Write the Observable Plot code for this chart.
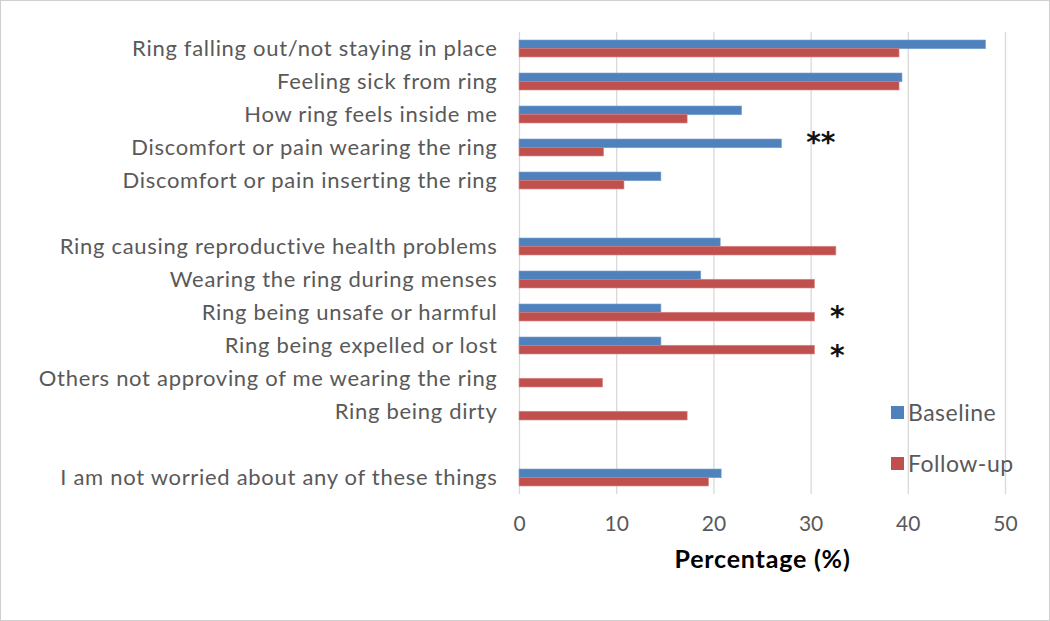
<!DOCTYPE html>
<html>
<head>
<meta charset="utf-8">
<script src="https://cdn.jsdelivr.net/npm/d3@7"></script>
<script src="https://cdn.jsdelivr.net/npm/@observablehq/plot@0.6"></script>
<style>
  html, body { margin: 0; padding: 0; background: #fff; }
  #wrap { position: relative; width: 1050px; height: 621px; overflow: hidden; }
  #wrap svg { display: block; outline: 1px solid #cfcfcf; outline-offset: -1px; }
  .legend { position: absolute; left: 891px; font-family: Lato, "Open Sans", sans-serif; font-size: 23px; letter-spacing: 0.5px; color: #595959; display: flex; align-items: center; line-height: 26px; }
  .legend span.sw { display: inline-block; width: 13px; height: 13px; margin-right: 4px; }
  .ylab text { letter-spacing: 0.7px; }
</style>
</head>
<body>
<div id="wrap"></div>
<script>
const categories = [
  "Ring falling out/not staying in place",
  "Feeling sick from ring",
  "How ring feels inside me",
  "Discomfort or pain wearing the ring",
  "Discomfort or pain inserting the ring",
  " ",
  "Ring causing reproductive health problems",
  "Wearing the ring during menses",
  "Ring being unsafe or harmful",
  "Ring being expelled or lost",
  "Others not approving of me wearing the ring",
  "Ring being dirty",
  "  ",
  "I am not worried about any of these things"
];
const baseline = [48, 39.4, 22.9, 27.0, 14.6, null, 20.7, 18.7, 14.6, 14.6, 0, 0, null, 20.8];
const followup = [39.1, 39.1, 17.3, 8.7, 10.8, null, 32.6, 30.4, 30.4, 30.4, 8.6, 17.3, null, 19.5];
const seriesNames = ["Baseline", "Follow-up"];
const seriesColors = ["#4F81BD", "#C0504D"];
const xTicks = [0, 10, 20, 30, 40, 50];
const noteCategories = ["Discomfort or pain wearing the ring", "Ring being unsafe or harmful", "Ring being expelled or lost"];
const noteX = [31.0, 32.7, 32.7];
const noteLabels = ["**", "*", "*"];

const rows = [];
categories.forEach((c, i) => {
  if (baseline[i] != null && baseline[i] > 0) rows.push({category: c, series: "Baseline", value: baseline[i]});
  if (followup[i] != null && followup[i] > 0) rows.push({category: c, series: "Follow-up", value: followup[i]});
});
const notes = noteCategories.map((c, i) => ({category: c, x: noteX[i], label: noteLabels[i]}));
const noteDy = [-5, 4, 10];

const half = 33 * 0.5 / 2;
const font = "Lato, 'Open Sans', sans-serif";

const chart = Plot.plot({
  width: 1050,
  height: 621,
  marginLeft: 519,
  marginRight: 45,
  marginTop: 32,
  marginBottom: 127,
  style: {fontFamily: font, fontSize: "20px", color: "#595959", background: "#fff"},
  x: {domain: [0, 50], ticks: xTicks},
  y: {domain: categories, padding: 0.5, paddingOuter: 0.25, align: 0.5},
  color: {domain: seriesNames, range: seriesColors},
  marks: [
    Plot.gridX(xTicks, {stroke: "#d9d9d9", strokeOpacity: 1, strokeWidth: 1.3}),
    Plot.barX(rows.filter(d => d.series === "Baseline"), {x: "value", y: "category", fill: seriesColors[0], insetBottom: half, stroke: "#7da2d0", strokeWidth: 0.6}),
    Plot.barX(rows.filter(d => d.series === "Follow-up"), {x: "value", y: "category", fill: seriesColors[1], insetTop: half, stroke: "#d98b89", strokeWidth: 0.6}),
    ...notes.map((n, i) => Plot.text([n], {x: "x", y: "category", text: "label", fontSize: 28, fontWeight: "bold", fill: "#111", dy: noteDy[i], fontFamily: "DejaVu Sans"})),
    Plot.axisY({tickSize: 0, tickPadding: 22, fontSize: 22, label: null, tickFormat: d => d.trim(), className: "ylab"}),
    Plot.axisX(xTicks, {tickSize: 0, tickPadding: 22, fontSize: 21, label: null}),
    Plot.text(["Percentage (%)"], {frameAnchor: "bottom", dy: 73, fontSize: 25, fontWeight: "bold", fill: "#000", className: "xtitle"})
  ]
});

const wrap = document.getElementById("wrap");
wrap.appendChild(chart);
chart.querySelectorAll(".xtitle text").forEach(t => t.setAttribute("letter-spacing", "0.8"));
[["Baseline", seriesColors[0], 399], ["Follow-up", seriesColors[1], 450]].forEach(([name, col, top]) => {
  const d = document.createElement("div");
  d.className = "legend";
  d.style.top = top + "px";
  d.innerHTML = `<span class="sw" style="background:${col}"></span>${name}`;
  wrap.appendChild(d);
});
</script>
</body>
</html>
